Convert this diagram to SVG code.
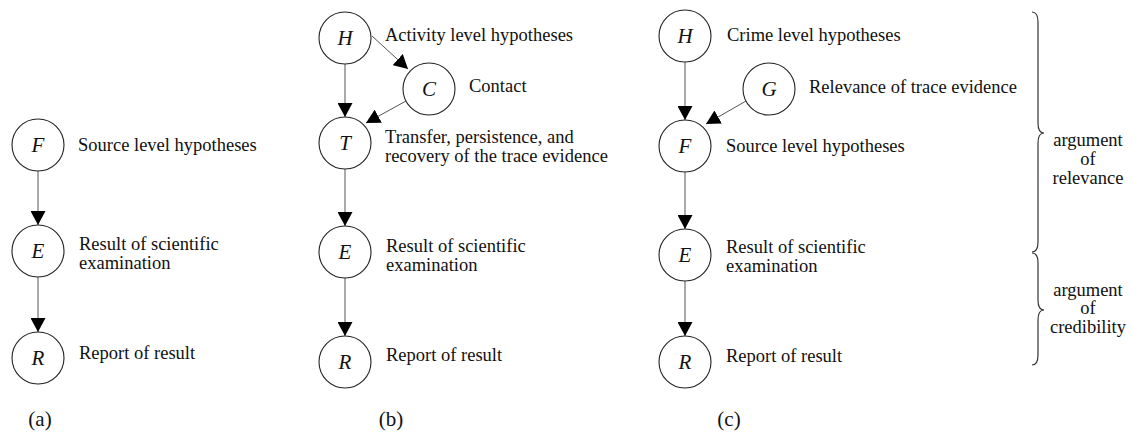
<svg xmlns="http://www.w3.org/2000/svg" width="1133" height="439" viewBox="0 0 1133 439">
  <style>
    .node circle { fill: #fff; stroke: #222; stroke-width: 1.1; }
    .node text.v { font-family: "Liberation Serif", serif; font-style: italic; font-size: 21px; text-anchor: middle; fill: #111; }
    .lbl { font-family: "Liberation Serif", serif; font-size: 18.5px; fill: #111; }
    .cap { font-family: "Liberation Serif", serif; font-size: 21px; fill: #111; text-anchor: middle; }
    .brace-txt { font-family: "Liberation Serif", serif; font-size: 18.5px; fill: #111; text-anchor: middle; }
    .edge { stroke: #555; stroke-width: 1; fill: none; marker-end: url(#arrow); }
    .brace { stroke: #333; stroke-width: 1.2; fill: none; }
  </style>
  <defs>
    <marker id="arrow" markerUnits="userSpaceOnUse" markerWidth="15" markerHeight="15" refX="14" refY="7.5" orient="auto" viewBox="0 0 15 15">
      <path d="M0,0 L14,7.5 L0,15 z" fill="#000"/>
    </marker>
  </defs>

  <!-- connectors -->
  <g id="connectors">
    <!-- (a) -->
    <line class="edge" x1="38" y1="171" x2="38" y2="225"/>
    <line class="edge" x1="38" y1="277" x2="38" y2="332"/>
    <!-- (b) -->
    <line class="edge" x1="345" y1="64" x2="345" y2="117"/>
    <line class="edge" x1="372" y1="36" x2="408" y2="69"/>
    <line class="edge" x1="406" y1="101" x2="366" y2="123"/>
    <line class="edge" x1="345" y1="169" x2="345" y2="226"/>
    <line class="edge" x1="345" y1="278" x2="345" y2="336"/>
    <!-- (c) -->
    <line class="edge" x1="685" y1="62" x2="685" y2="120"/>
    <line class="edge" x1="746" y1="101" x2="706" y2="124"/>
    <line class="edge" x1="685" y1="172" x2="685" y2="229"/>
    <line class="edge" x1="685" y1="281" x2="685" y2="336"/>
  </g>

  <!-- panel (a) -->
  <g id="a-F" class="node"><circle cx="38" cy="145" r="26"/><text class="v" x="38" y="152">F</text></g>
  <g id="a-E" class="node"><circle cx="38" cy="251" r="26"/><text class="v" x="38" y="258">E</text></g>
  <g id="a-R" class="node"><circle cx="38" cy="358" r="26"/><text class="v" x="38" y="365">R</text></g>
  <text class="lbl" x="78" y="151">Source level hypotheses</text>
  <text class="lbl" x="79" y="250">Result of scientific</text>
  <text class="lbl" x="79" y="269">examination</text>
  <text class="lbl" x="79" y="359">Report of result</text>
  <text class="cap" x="40" y="426">(a)</text>

  <!-- panel (b) -->
  <g id="b-H" class="node"><circle cx="345" cy="38" r="26"/><text class="v" x="345" y="45">H</text></g>
  <g id="b-C" class="node"><circle cx="429" cy="89" r="26"/><text class="v" x="429" y="96">C</text></g>
  <g id="b-T" class="node"><circle cx="345" cy="143" r="26"/><text class="v" x="345" y="150">T</text></g>
  <g id="b-E" class="node"><circle cx="345" cy="252" r="26"/><text class="v" x="345" y="259">E</text></g>
  <g id="b-R" class="node"><circle cx="345" cy="362" r="26"/><text class="v" x="345" y="369">R</text></g>
  <text class="lbl" x="385" y="41">Activity level hypotheses</text>
  <text class="lbl" x="469" y="92">Contact</text>
  <text class="lbl" x="385" y="143">Transfer, persistence, and</text>
  <text class="lbl" x="385" y="162">recovery of the trace evidence</text>
  <text class="lbl" x="386" y="252">Result of scientific</text>
  <text class="lbl" x="386" y="271">examination</text>
  <text class="lbl" x="386" y="361">Report of result</text>
  <text class="cap" x="391" y="426">(b)</text>

  <!-- panel (c) -->
  <g id="c-H" class="node"><circle cx="685" cy="36" r="26"/><text class="v" x="685" y="43">H</text></g>
  <g id="c-G" class="node"><circle cx="769" cy="89" r="26"/><text class="v" x="769" y="96">G</text></g>
  <g id="c-F" class="node"><circle cx="685" cy="146" r="26"/><text class="v" x="685" y="153">F</text></g>
  <g id="c-E" class="node"><circle cx="685" cy="255" r="26"/><text class="v" x="685" y="262">E</text></g>
  <g id="c-R" class="node"><circle cx="685" cy="362" r="26"/><text class="v" x="685" y="369">R</text></g>
  <text class="lbl" x="727" y="41">Crime level hypotheses</text>
  <text class="lbl" x="809" y="93">Relevance of trace evidence</text>
  <text class="lbl" x="726" y="152">Source level hypotheses</text>
  <text class="lbl" x="726" y="253">Result of scientific</text>
  <text class="lbl" x="726" y="272">examination</text>
  <text class="lbl" x="726" y="362">Report of result</text>
  <text class="cap" x="729" y="426">(c)</text>

  <!-- braces -->
  <g id="brace-relevance">
    <path class="brace" d="M1032,12 Q1038,12 1038,22 L1038,123 Q1038,133 1044,133 Q1038,133 1038,143 L1038,242 Q1038,252 1032,252"/>
    <text class="brace-txt" x="1088" y="146">argument</text>
    <text class="brace-txt" x="1088" y="165">of</text>
    <text class="brace-txt" x="1088" y="184">relevance</text>
  </g>
  <g id="brace-credibility">
    <path class="brace" d="M1032,253 Q1038,253 1038,263 L1038,300 Q1038,310 1044,310 Q1038,310 1038,320 L1038,355 Q1038,365 1032,365"/>
    <text class="brace-txt" x="1088" y="296">argument</text>
    <text class="brace-txt" x="1088" y="314">of</text>
    <text class="brace-txt" x="1088" y="333">credibility</text>
  </g>
</svg>
